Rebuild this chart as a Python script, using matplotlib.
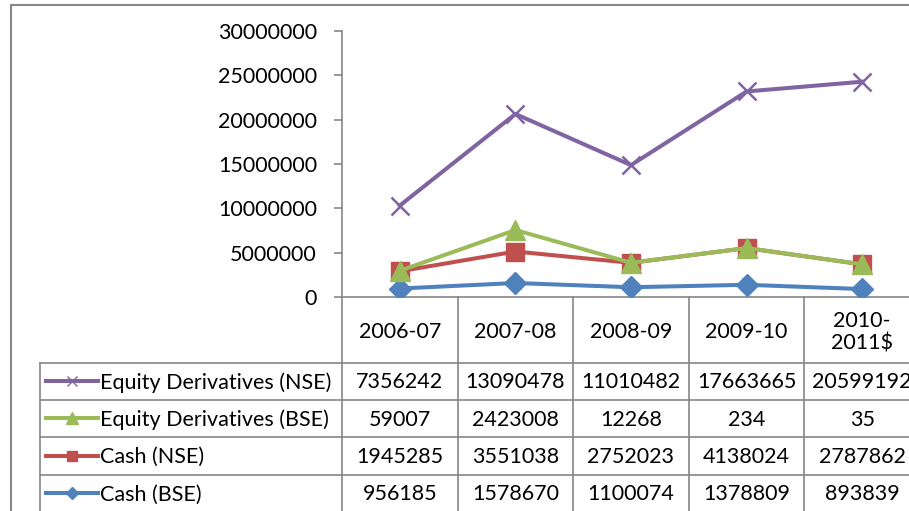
import numpy as np
import matplotlib
matplotlib.use("Agg")
import matplotlib.pyplot as plt

# Data (stacked line chart with data table)
years = ["2006-07", "2007-08", "2008-09", "2009-10", "2010-\n2011$"]
cash_bse = [956185, 1578670, 1100074, 1378809, 893839]
cash_nse = [1945285, 3551038, 2752023, 4138024, 2787862]
eq_der_bse = [59007, 2423008, 12268, 234, 35]
eq_der_nse = [7356242, 13090478, 11010482, 17663665, 20599192]

# bottom to top stacking order, as Excel draws it
series = [
    ("Cash (BSE)", cash_bse, "#4F81BD", "D", 11),
    ("Cash (NSE)", cash_nse, "#C0504D", "s", 13),
    ("Equity Derivatives (BSE)", eq_der_bse, "#9BBB59", "^", 15),
    ("Equity Derivatives (NSE)", eq_der_nse, "#8064A2", "x", 13),
]
yticks = [0, 5000000, 10000000, 15000000, 20000000, 25000000, 30000000]

W, H = 909, 511
grey = "#868686"
font = "Lato"
fs = 15.5

fig = plt.figure(figsize=(W / 100, H / 100), dpi=100)

# main plot area (right side runs past the picture edge like the source)
left_px, right_px, top_px, bot_px = 342, 920, 31, 297
ax = fig.add_axes([left_px / W, 1 - bot_px / H, (right_px - left_px) / W, (bot_px - top_px) / H])
ax.set_xlim(-0.5, len(years) - 0.5)
ax.set_ylim(0, 30000000)

x = np.arange(len(years))
stack = np.zeros(len(years))
for name, vals, color, marker, ms in series:
    stack = stack + np.array(vals)
    ax.plot(x, stack, color=color, lw=2.9, marker=marker, ms=ms,
            mew=1.8 if marker == "x" else 1, mec=color, mfc=color, zorder=3)

ax.set_yticks(yticks)
ax.set_yticklabels([str(v) for v in yticks], fontfamily=font, fontsize=fs)
ax.set_xticks([])
ax.tick_params(axis="y", direction="out", length=6, width=1.2, color=grey, pad=12)
for s in ["top", "right"]:
    ax.spines[s].set_visible(False)
for s in ["left", "bottom"]:
    ax.spines[s].set_color(grey)
    ax.spines[s].set_linewidth(1.2)
ax.patch.set_alpha(0)

# overlay in pixel coordinates for the data table and chart frame
ov = fig.add_axes([0, 0, 1, 1], zorder=-1)
ov.set_xlim(0, W)
ov.set_ylim(H, 0)
ov.axis("off")

# chart frame
ov.plot([11, 11, W + 5], [H + 5, 5, 5], color=grey, lw=1.5)

col_w = (right_px - left_px) / len(years)
col_edges = [left_px + i * col_w for i in range(len(years) + 1)]
row_edges = [297, 363, 400, 437, 475, 512]
label_left = 40

# vertical lines
for xe in col_edges:
    ov.plot([xe, xe], [row_edges[0], H + 5], color=grey, lw=1.2)
ov.plot([label_left, label_left], [row_edges[1], H + 5], color=grey, lw=1.2)
# horizontal lines
for ye in row_edges[1:]:
    ov.plot([label_left, W + 5], [ye, ye], color=grey, lw=1.2)

# header
for i, yr in enumerate(years):
    cx = left_px + (i + 0.5) * col_w
    ov.text(cx, (row_edges[0] + row_edges[1]) / 2 + 2, yr.replace("$", "\\$"),
            ha="center", va="center", fontfamily=font, fontsize=fs, linespacing=1.15)

# rows, top to bottom: reverse of stacking order
for r, (name, vals, color, marker, ms) in enumerate(reversed(series)):
    cy = (row_edges[r + 1] + row_edges[r + 2]) / 2
    ov.plot([46, 98], [cy, cy], color=color, lw=2.9, zorder=3)
    ov.plot([72], [cy], color=color, marker=marker, ms=ms * 0.6,
            mew=1, mec=color, mfc=color, zorder=3)
    ov.text(100, cy + 1, name, ha="left", va="center", fontfamily=font, fontsize=fs)
    for i, v in enumerate(vals):
        cx = left_px + (i + 0.5) * col_w
        ov.text(cx, cy + 1, str(v), ha="center", va="center", fontfamily=font, fontsize=fs)

fig.savefig("out.png", dpi=100)
